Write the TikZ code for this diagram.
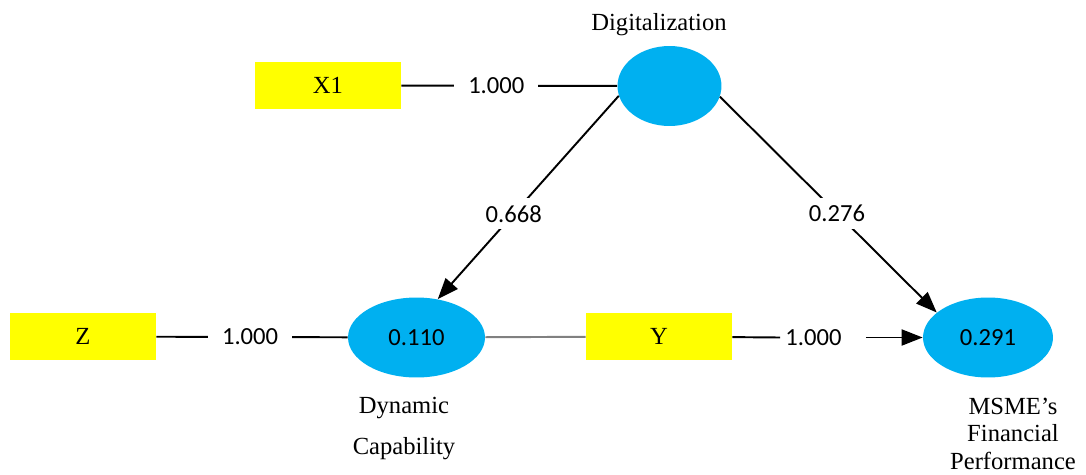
\documentclass[tikz,border=0pt]{standalone}
\usepackage{fontspec}
\setmainfont{Liberation Serif}
\newfontfamily\numfont{Carlito}
\usepackage{xcolor}
\usetikzlibrary{shapes.geometric,arrows.meta,positioning}
\definecolor{boxyellow}{RGB}{255,255,0}
\definecolor{latentblue}{RGB}{0,176,240}

\tikzset{
	indicator/.style={fill=boxyellow,minimum width=2.92cm,minimum height=0.94cm,inner sep=0pt,font=\fontsize{14}{16}\selectfont},
	construct/.style={ellipse,fill=latentblue,minimum height=1.6cm,inner sep=0pt,font=\numfont\fontsize{14}{16}\selectfont},
	loading/.style={fill=white,inner xsep=8pt,inner ysep=4pt,font=\numfont\fontsize{14}{16}\selectfont},
	caption/.style={align=center,inner sep=0pt},
	link/.style={line width=1.1pt},
	effect/.style={line width=1.1pt,-{Triangle[length=0.42cm,width=0.32cm]}}
}

\begin{document}
\begin{tikzpicture}[x=0.02cm,y=-0.02cm]
	\useasboundingbox (0,0) rectangle (1086,474);

	\node[construct,minimum width=2.08cm] (dig) at (669.5,86) {};
	\node[construct,minimum width=2.74cm] (dc) at (416.5,337.5) {0.110};
	\node[construct,minimum width=2.6cm] (fp) at (988,337.5) {0.291};
	\node[indicator] (x1) at (328,85.5) {X1};
	\node[indicator] (z) at (83,336.5) {Z};
	\node[indicator] (y) at (659,336.5) {Y};

	\node[caption,anchor=north,font=\fontsize{14}{16}\selectfont] (diglab) at (659,13) {Digitalization};
	\node[caption,anchor=north,font=\fontsize{14}{16}\selectfont] (dclab) at (404,397) {Dynamic\\[7pt]Capability};
	\node[caption,anchor=north,font=\fontsize{14}{15.5}\selectfont] (fplab) at (1013,398) {MSME’s\\Financial\\Performance};

	\draw[link] (x1) -- node[loading,pos=0.44] (l1) {1.000} (dig);
	\draw[link] (z) -- node[loading,pos=0.49] (l2) {1.000} (dc);
	\draw[link,gray] (dc) -- (y);
	\node[loading,fill=none,inner xsep=0pt] (l3) at (813.5,337.5) {1.000};
	\draw[link] (y) -- ([xshift=-0.1cm]l3.west);
	\draw[effect] ([xshift=0.48cm]l3.east) -- (fp);

	\draw[effect] (dig.191) -- node[loading,pos=0.58] (l4) {0.668} (dc.61);
	\draw[effect] (dig.348) -- node[loading,pos=0.54] (l5) {0.276} (fp.154);
\end{tikzpicture}
\end{document}
